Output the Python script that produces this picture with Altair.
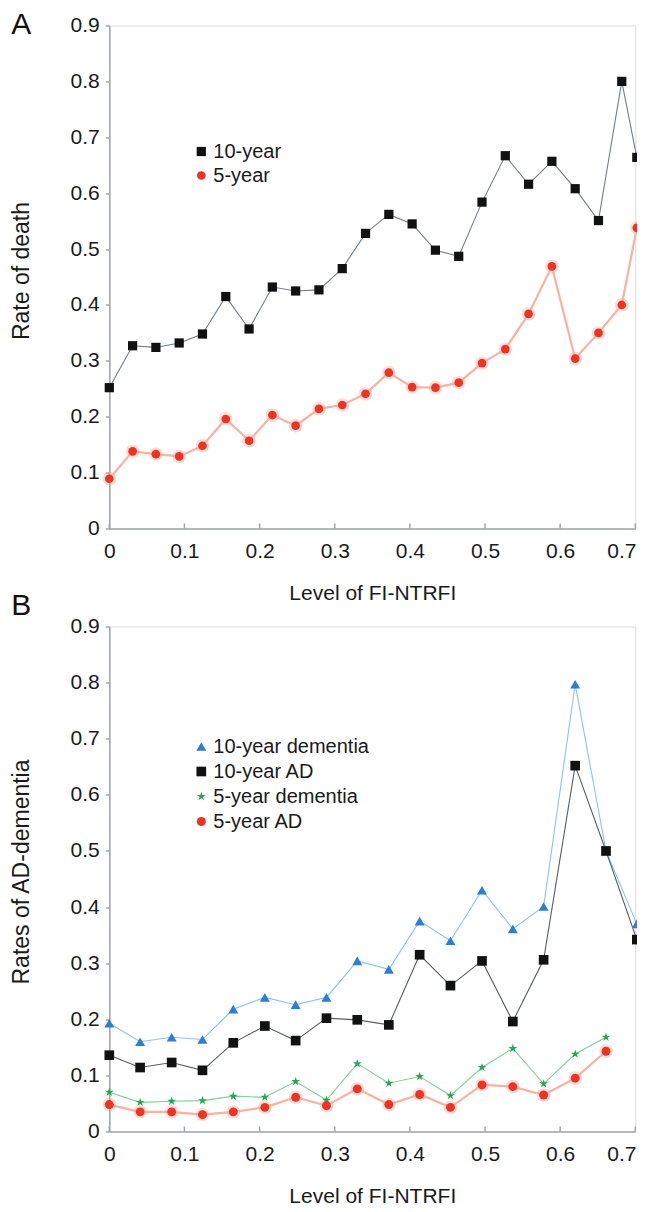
import altair as alt
import pandas as pd

# ---------------- data ----------------
a_x = [0, 0.031, 0.062, 0.093, 0.124, 0.155, 0.186, 0.217, 0.248, 0.279, 0.31, 0.341,
       0.372, 0.403, 0.434, 0.465, 0.496, 0.527, 0.558, 0.589, 0.62, 0.651, 0.682, 0.702]
a_10year = [0.252, 0.327, 0.324, 0.332, 0.348, 0.415, 0.357, 0.432, 0.425, 0.427, 0.465, 0.528,
            0.562, 0.545, 0.498, 0.487, 0.584, 0.667, 0.616, 0.657, 0.608, 0.551, 0.800, 0.664]
a_5year = [0.089, 0.138, 0.133, 0.129, 0.148, 0.196, 0.157, 0.203, 0.184, 0.214, 0.221, 0.241,
           0.279, 0.253, 0.252, 0.261, 0.296, 0.321, 0.384, 0.469, 0.304, 0.350, 0.400, 0.538]

b_x = [0, 0.041, 0.083, 0.124, 0.165, 0.207, 0.248, 0.289, 0.33, 0.372, 0.413, 0.454,
       0.496, 0.537, 0.578, 0.62, 0.661, 0.702]
b_dem10 = [0.193, 0.160, 0.168, 0.164, 0.218, 0.239, 0.226, 0.239, 0.304, 0.289, 0.375, 0.340,
           0.430, 0.361, 0.401, 0.797, 0.500, 0.370]
b_ad10 = [0.136, 0.114, 0.123, 0.109, 0.158, 0.188, 0.162, 0.202, 0.199, 0.190, 0.315, 0.260,
          0.304, 0.196, 0.306, 0.652, 0.500, 0.342]
b_dem5 = [0.070, 0.052, 0.054, 0.055, 0.063, 0.061, 0.089, 0.056, 0.121, 0.086, 0.098, 0.064,
          0.114, 0.148, 0.085, 0.138, 0.168]
b_ad5 = [0.048, 0.035, 0.035, 0.030, 0.035, 0.043, 0.061, 0.046, 0.076, 0.048, 0.066, 0.043,
         0.083, 0.080, 0.065, 0.095, 0.143]

x_ticks = [0, 0.1, 0.2, 0.3, 0.4, 0.5, 0.6, 0.7]
y_ticks = [0, 0.1, 0.2, 0.3, 0.4, 0.5, 0.6, 0.7, 0.8, 0.9]

a_names = ["10-year", "5-year"]
b_names = ["10-year dementia", "10-year AD", "5-year dementia", "5-year AD"]

# ---------------- style ----------------
FONT = "Liberation Sans"
TXT = "#1a1a1a"
AXIS = "#9ea6ad"
STAR = ("M0,-1L0.2245,-0.309L0.9511,-0.309L0.3633,0.118L0.5878,0.809L0,0.382"
        "L-0.5878,0.809L-0.3633,0.118L-0.9511,-0.309L-0.2245,-0.309Z")
W = 526
HA = 503
HB = 505
GAP = 98


def long_df(x, series):
    rows = []
    for name, vals in series.items():
        for xi, v in zip(x, vals):
            rows.append({"x": xi, "rate": v, "series": name})
    return pd.DataFrame(rows)


def panel(df, names, pt_colors, shapes, sizes, line_cfg, halo_name, letter,
          letter_y, ytitle, H, legend_y, row_pad, xtitle_y):
    xscale = alt.Scale(domain=[0, 0.7], nice=False, zero=False)
    yscale = alt.Scale(domain=[0, 0.9], nice=False, zero=True)
    xaxis = alt.Axis(values=x_ticks, format=".1~f", title="Level of FI-NTRFI",
                     ticks=False, tickSize=0, labelPadding=12, labelFontSize=21,
                     labelFont=FONT, labelColor=TXT, labelFlush=False, labelBound=False,
                     labelOffset={"condition": {"test": "datum.value >= 0.69", "value": -14},
                                  "value": 0},
                     titleFont=FONT, titleFontSize=21,
                     titleFontWeight="normal", titleColor=TXT, titleY=xtitle_y,
                     titleBaseline="alphabetic", domainColor=AXIS, domainWidth=1.5,
                     grid=False, labelOverlap=False)
    yaxis = alt.Axis(values=y_ticks, format=".1~f", title=ytitle, tickSize=4,
                     tickColor=AXIS, tickWidth=1.5, labelPadding=6, labelFontSize=21,
                     labelFont=FONT, labelColor=TXT, labelFlush=False, labelBound=False,
                     titleFont=FONT, titleFontSize=23,
                     titleFontWeight="normal", titleColor=TXT, titleX=-81, titleY=245,
                     titleAngle=-90, titleAlign="center", titleBaseline="alphabetic",
                     domainColor=AXIS, domainWidth=1.5, grid=False, labelOverlap=False)

    base = alt.Chart(df)
    layers = []
    # halo under the red circles
    layers.append(
        base.transform_filter(alt.datum.series == halo_name)
        .mark_circle(color="#f7a08f", opacity=0.35, size=190)
        .encode(x=alt.X("x:Q", scale=xscale, axis=xaxis),
                y=alt.Y("rate:Q", scale=yscale, axis=yaxis))
    )
    for name, (col, sw) in line_cfg.items():
        layers.append(
            base.transform_filter(alt.datum.series == name)
            .mark_line(color=col, strokeWidth=sw)
            .encode(x="x:Q", y="rate:Q")
        )
    # inward x ticks
    tick_df = pd.DataFrame({"t": x_ticks})
    layers.append(
        alt.Chart(tick_df).mark_rule(color=AXIS, strokeWidth=1.5)
        .encode(x="t:Q", y=alt.value(H), y2=alt.value(H - 5))
    )
    legend = alt.Legend(orient="none", legendX=82, legendY=legend_y, title=None,
                        labelFont=FONT, labelFontSize=20, labelColor=TXT,
                        symbolSize=60, symbolStrokeWidth=0, padding=0,
                        rowPadding=row_pad, labelOffset=2)
    layers.append(
        base.mark_point(filled=True, opacity=1, strokeWidth=0)
        .encode(x="x:Q", y="rate:Q",
                color=alt.Color("series:N", scale=alt.Scale(domain=names, range=pt_colors),
                                legend=legend),
                shape=alt.Shape("series:N", scale=alt.Scale(domain=names, range=shapes),
                                legend=legend),
                size=alt.Size("series:N", scale=alt.Scale(domain=names, range=sizes),
                              legend=None))
    )
    layers.append(
        alt.Chart(pd.DataFrame({"t": [letter]}))
        .mark_text(align="left", baseline="alphabetic", font=FONT, fontSize=30, color="#111")
        .encode(x=alt.value(-98), y=alt.value(letter_y), text="t:N")
    )
    return alt.layer(*layers).properties(width=W, height=H)


df_a = long_df(a_x, {"10-year": a_10year, "5-year": a_5year})
df_b = long_df(b_x, {"10-year dementia": b_dem10, "10-year AD": b_ad10,
                     "5-year dementia": b_dem5, "5-year AD": b_ad5})

pa = panel(df_a, a_names, ["#111111", "#ee3322"], ["square", "circle"], [85, 75],
           {"5-year": ("#f8b2a2", 2.2), "10-year": ("#6f7f8c", 1.1)},
           "5-year", "A", 8, "Rate of death", HA, 116, 4, 71)
pb = panel(df_b, b_names, ["#2b7dd6", "#111111", "#22a852", "#ee3322"],
           ["triangle-up", "square", STAR, "circle"], [100, 80, 190, 85],
           {"5-year AD": ("#f8b2a2", 2.2), "10-year dementia": ("#8cc3f0", 1.1),
            "10-year AD": ("#555f66", 1.1), "5-year dementia": ("#7fd09a", 1.1)},
           "5-year AD", "B", -12, "Rates of AD-dementia", HB, 110, 5, 71)

# With autosize "none" Vega takes the concat's width from the panels and a height
# of zero, so the padding sets the remaining size of the picture (629 = page width
# minus the 8px margins, so the svg is not scaled down).
PAD_L, PAD_T = 101.3, 17.5
TOTAL_W, TOTAL_H = 629, 1204
chart = alt.vconcat(pa, pb, spacing=GAP, bounds="flush").properties(
    autosize=alt.AutoSizeParams(type="none"),
    padding={"left": PAD_L, "top": PAD_T,
             "right": TOTAL_W - PAD_L - W,
             "bottom": TOTAL_H - PAD_T},
).resolve_scale(color="independent", shape="independent", size="independent").configure_view(
    strokeOpacity=0, strokeWidth=0
).configure(background="white")

chart.save("out.html", embed_options={"renderer": "svg", "actions": False})
